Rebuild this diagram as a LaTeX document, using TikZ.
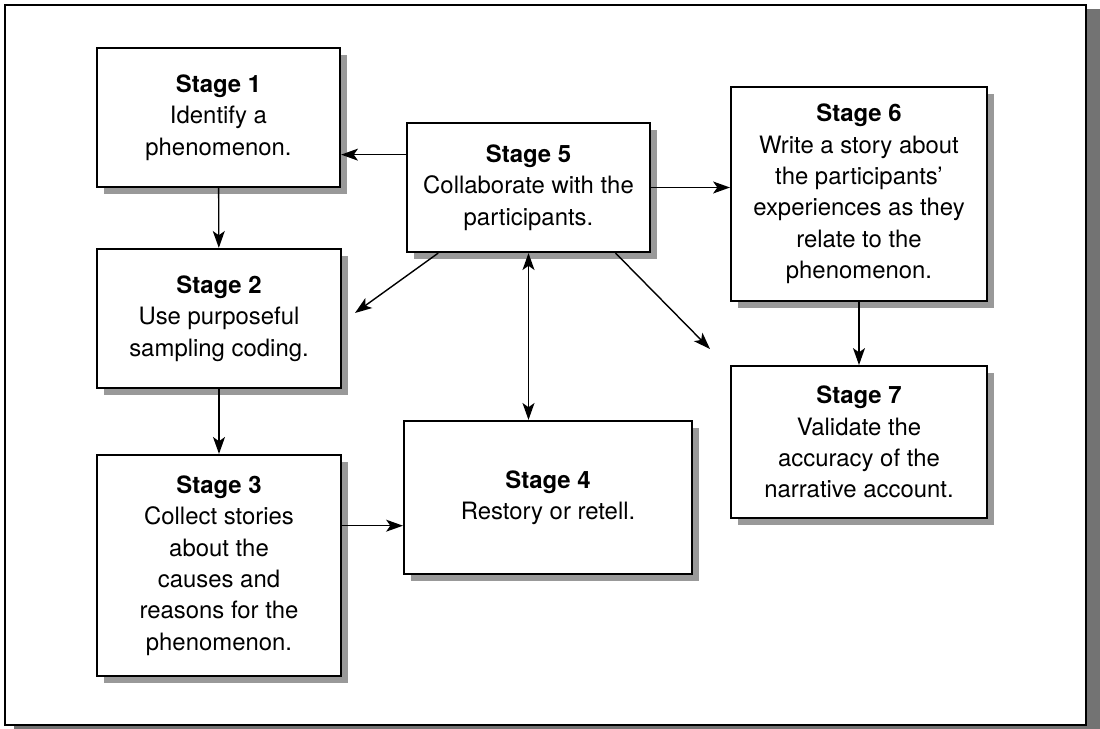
\documentclass[tikz,border=0pt]{standalone}
\usepackage{fontspec}
\setmainfont{TeX Gyre Heros}
\usetikzlibrary{arrows.meta,shadows}

\begin{document}
\begin{tikzpicture}[x=0.025cm, y=-0.025cm,
    stagebox/.style={draw, line width=1.4pt, fill=white, align=center, inner sep=0pt,
      font=\fontsize{17}{22.3}\selectfont,
      drop shadow={shadow xshift=0.17cm, shadow yshift=-0.17cm, fill=black!40, opacity=1}},
    arr/.style={line width=1pt, -{Stealth[length=12pt,width=8.5pt,inset=3pt]}},
    arrboth/.style={line width=1pt, {Stealth[length=12pt,width=8.5pt,inset=3pt]}-{Stealth[length=12pt,width=8.5pt,inset=3pt]}}]
  \useasboundingbox (0,0) rectangle (1100,729);

  % Outer frame with its shadow
  \fill[black!55] (14,9) rectangle (1100,729);
  \draw[line width=1.5pt, fill=white] (5,5) rectangle (1086,725);

  % The seven stages
  \node[stagebox, minimum width=6.08cm, minimum height=3.48cm] (s1) at (218.5,117.5)
    {\textbf{Stage 1}\\Identify a\\phenomenon.};
  \node[stagebox, minimum width=6.1cm, minimum height=3.48cm] (s2) at (219,318.5)
    {\textbf{Stage 2}\\Use purposeful\\sampling coding.};
  \node[stagebox, minimum width=6.1cm, minimum height=5.53cm] (s3) at (219,565.5)
    {\textbf{Stage 3}\\Collect stories\\about the\\causes and\\reasons for the\\phenomenon.};
  \node[stagebox, minimum width=7.2cm, minimum height=3.83cm] (s4) at (548,497.5)
    {\textbf{Stage 4}\\Restory or retell.};
  \node[stagebox, minimum width=6.08cm, minimum height=3.23cm] (s5) at (528.5,187.5)
    {\textbf{Stage 5}\\Collaborate with the\\participants.};
  \node[stagebox, minimum width=6.4cm, minimum height=5.35cm] (s6) at (859,194)
    {\textbf{Stage 6}\\Write a story about\\the participants’\\experiences as they\\relate to the\\phenomenon.};
  \node[stagebox, minimum width=6.4cm, minimum height=3.8cm] (s7) at (859,442)
    {\textbf{Stage 7}\\Validate the\\accuracy of the\\narrative account.};

  % Free ends of the two open arrows
  \coordinate (p2) at (355,313);
  \coordinate (p7) at (710,349);

  % Connectors
  \draw[arr] (s1) -- (s2);
  \draw[arr] (s2) -- (s3);
  \draw[arr] (s3.east |- s4.191) -- (s4.191);
  \draw[arr] (s5.165) -- (s5.165 -| s1.east);
  \draw[arr] (s5.east) -- (s5.east -| s6.west);
  \draw[arr] (s5.216.7) -- (p2);
  \draw[arr] (s5.-37.7) -- (p7);
  \draw[arrboth] (s5.south) -- (s5.south |- s4.north);
  \draw[arr] (s6) -- (s7);
\end{tikzpicture}
\end{document}
